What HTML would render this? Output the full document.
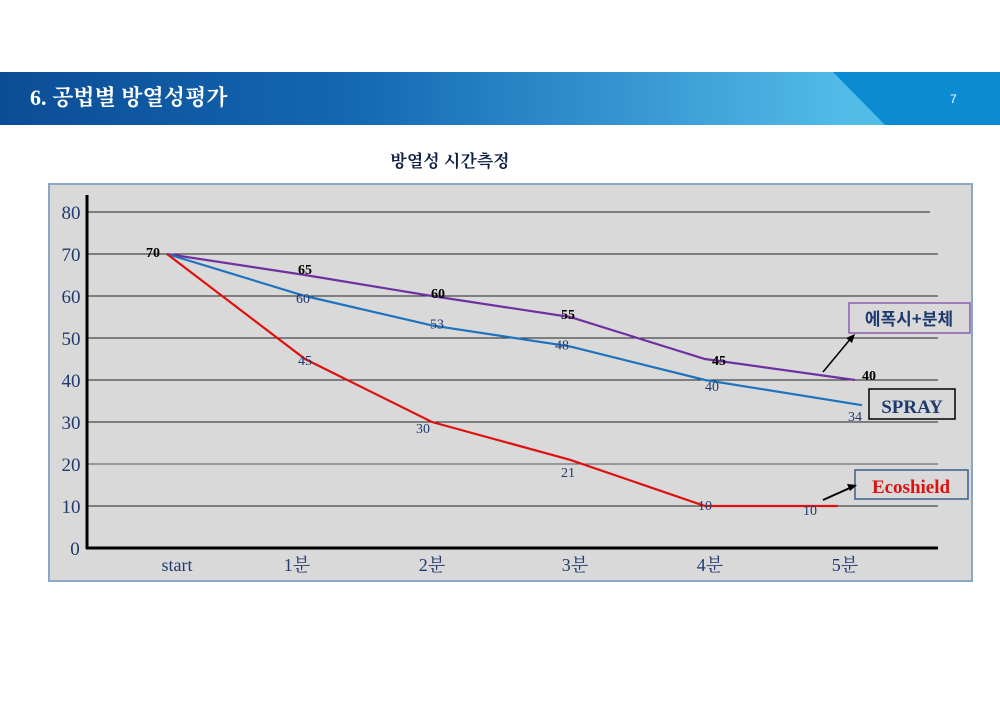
<!DOCTYPE html>
<html><head><meta charset="utf-8"><style>
body{margin:0;width:1000px;height:707px;background:#fff;overflow:hidden;font-family:"Liberation Serif","Noto Serif CJK SC",serif}
</style></head><body>
<svg width="1000" height="707" viewBox="0 0 1000 707">
<defs>
<linearGradient id="hg" x1="0" x2="1" y1="0" y2="0">
<stop offset="0" stop-color="#0b4d95"/><stop offset="0.35" stop-color="#1467b2"/><stop offset="0.85" stop-color="#52bce9"/></linearGradient>
</defs>
<g>
<rect x="0" y="72" width="1000" height="53" fill="url(#hg)"/>
<polygon points="833,72 1000,72 1000,125 885,125" fill="#0a8bd2"/>
<text x="30" y="105" fill="#fff" font-size="22" font-weight="bold" font-family="Liberation Serif,'Noto Serif CJK SC',serif">6. 공법별  방열성평가</text>
<text x="950" y="103" fill="#fff" font-size="12" font-family="Liberation Sans,sans-serif">7</text>
</g>
<text x="450" y="167" text-anchor="middle" font-size="17" font-weight="bold" fill="#0d1f44" font-family="'Noto Serif CJK SC',serif">방열성  시간측정</text>
<rect x="49" y="184" width="923" height="397" fill="#d9d9d9" stroke="#8aa7c4" stroke-width="2"/>
<g id="grid"></g><g id="series"></g><g id="labels"></g>
<line x1="87" y1="195" x2="87" y2="549" stroke="#000" stroke-width="3"/>
<line x1="86" y1="548" x2="938" y2="548" stroke="#000" stroke-width="3"/>
<g>
<rect x="849" y="303" width="121" height="30" fill="#d9d9d9" stroke="#8a5fb0" stroke-width="1.5"/>
<text x="909" y="325" text-anchor="middle" font-size="17" font-weight="bold" fill="#1f3a6e" font-family="'Noto Sans CJK KR',sans-serif">에폭시+분체</text>
<line x1="823" y1="372" x2="852" y2="337" stroke="#000" stroke-width="1.5"/><polygon points="855,334 846,338 852,343" fill="#000"/>
</g>
<g>
<rect x="869" y="389" width="86" height="30" fill="#d9d9d9" stroke="#000" stroke-width="1.5"/>
<text x="912" y="413" text-anchor="middle" font-size="19" font-weight="bold" fill="#1f3a6e">SPRAY</text>
</g>
<g>
<rect x="855" y="470" width="113" height="29" fill="#d9d9d9" stroke="#3a5f8a" stroke-width="1.5"/>
<text x="911" y="493" text-anchor="middle" font-size="19" font-weight="bold" fill="#e01010">Ecoshield</text>
<line x1="823" y1="500" x2="852" y2="487" stroke="#000" stroke-width="2"/><polygon points="857,485 847,484 850,491" fill="#000"/>
</g>
</svg>
<script>
const categories=["start","1분","2분","3분","4분","5분"];
const yTicks=[0,10,20,30,40,50,60,70,80];
const epoxy=[70,65,60,55,45,40];
const spray=[70,60,53,48,40,34];
const eco=[70,45,30,21,10,10];
const NS="http://www.w3.org/2000/svg";
const catX=[167,305,432,570,705,855];
function x(i){return catX[i];}
function y(v){return 548-v*4.2;}
function el(t,a,p){const e=document.createElementNS(NS,t);for(const k in a)e.setAttribute(k,a[k]);p.appendChild(e);return e;}
const grid=document.getElementById('grid'),ser=document.getElementById('series'),lab=document.getElementById('labels');
yTicks.forEach(v=>{
 if(v>0){const l=el('line',{x1:87,x2:v==80?930:938,y1:y(v),y2:y(v),stroke:v==20?'#555':'#222','stroke-width':1},grid);
 
 }
 const t=el('text',{x:v==0?75:71,y:y(v)+7,'text-anchor':'middle','font-size':19,fill:'#1f3a6e'},grid);
 t.textContent=v;
 
 
});
const xlx=[177,297,432,575,710,845];
categories.forEach((c,i)=>{
 const t=el('text',{x:xlx[i],y:571,'text-anchor':'middle','font-size':18,fill:'#1f3a6e',"font-family":"'Liberation Serif','Noto Serif CJK KR',serif"},lab);
 t.textContent=c;
 
 
});
function series(data,color,name,lc,offs,xs){
 const pts=data.map((v,i)=>(x(i)+(i==5?xs:0))+','+y(v)).join(' ');
 const p=el('polyline',{points:pts,fill:'none',stroke:color,'stroke-width':2.2},ser);
 
 
 data.forEach((v,i)=>{
  if(i==0&&name!='epoxy')return;
  const t=el('text',{x:x(i)+(i==5?xs:0)+offs[i][0],y:y(v)+offs[i][1],'text-anchor':'middle','font-size':14,fill:lc,'font-weight':name=='epoxy'?'bold':'normal'},lab);
  t.textContent=v;
  
  
 });
}
series(epoxy,'#7030a0','epoxy','#000',[[-14,3],[0,-1],[6,2],[-2,2],[14,6],[14,0]],0);
series(spray,'#1e73be','spray','#1f3a6e',[[0,0],[-2,7],[5,3],[-8,3],[7,11],[-7,16]],7);
series(eco,'#e01010','eco','#1f3a6e',[[0,0],[0,6],[-9,11],[-2,17],[0,4],[-28,9]],-17);
</script>
</body></html>
